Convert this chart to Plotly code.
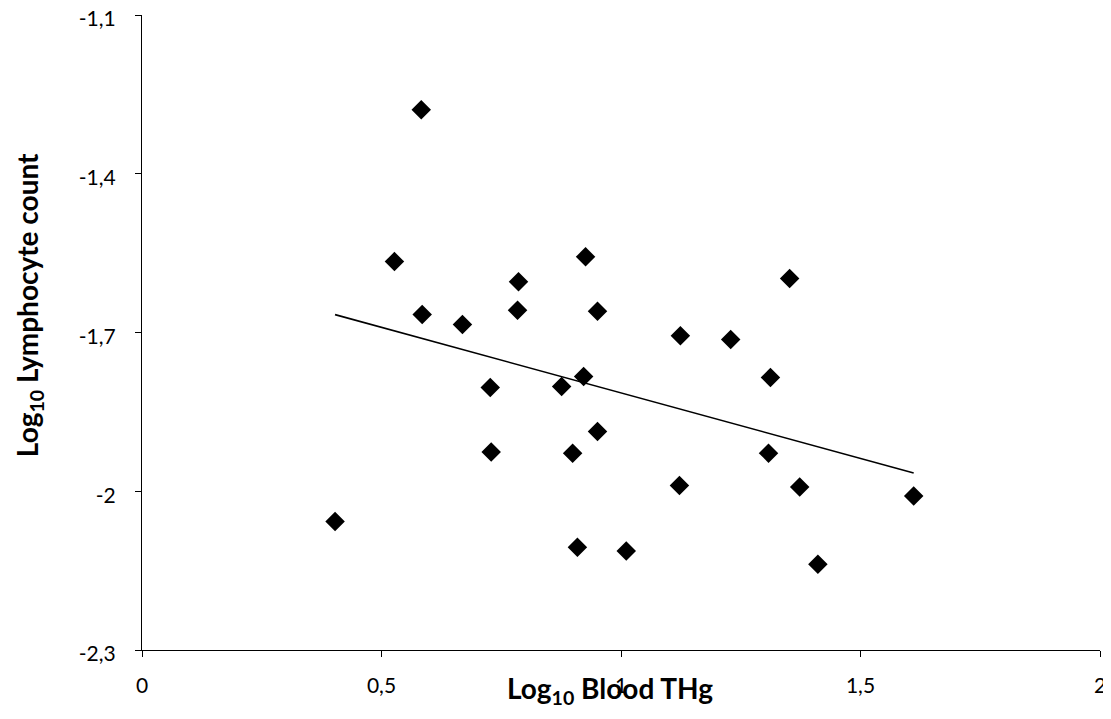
import numpy as np
import plotly.graph_objects as go

# Data
blood_thg_log = [0.403, 0.527, 0.583, 0.585, 0.669, 0.727, 0.729, 0.786, 0.784,
                 0.876, 0.899, 0.909, 0.922, 0.926, 0.951, 0.951, 1.011, 1.124,
                 1.122, 1.229, 1.308, 1.312, 1.352, 1.373, 1.411, 1.611]
lymph_log = [-2.057, -1.566, -1.279, -1.666, -1.685, -1.804, -1.926, -1.604, -1.658,
             -1.802, -1.928, -2.106, -1.783, -1.557, -1.660, -1.887, -2.113, -1.706,
             -1.989, -1.713, -1.928, -1.785, -1.598, -1.992, -2.138, -2.009]

x_ticks = [0, 0.5, 1, 1.5, 2]
x_tick_labels = ["0", "0,5", "1", "1,5", "2"]
y_ticks = [-2.3, -2.0, -1.7, -1.4, -1.1]
y_tick_labels = ["-2,3", "-2", "-1,7", "-1,4", "-1,1"]

# Linear trendline (least squares), spanning the data range
slope, intercept = np.polyfit(blood_thg_log, lymph_log, 1)
tx = [min(blood_thg_log), max(blood_thg_log)]
ty = [slope * v + intercept for v in tx]

FONT = "Lato"

fig = go.Figure()
fig.add_trace(go.Scatter(
    x=blood_thg_log, y=lymph_log, mode="markers",
    marker=dict(symbol="diamond", size=15, color="black", line=dict(width=0)),
    showlegend=False, hoverinfo="x+y"))
fig.add_trace(go.Scatter(
    x=tx, y=ty, mode="lines", line=dict(color="black", width=1.6),
    showlegend=False, hoverinfo="skip"))

# The page body adds an 8px offset; size the figure to compensate
fig.update_layout(
    width=1103, height=711,
    margin=dict(l=134, r=11, t=7, b=69),
    paper_bgcolor="white", plot_bgcolor="white",
    font=dict(family=FONT, color="black", size=20),
    xaxis=dict(range=[0, 2], tickvals=x_ticks, ticktext=x_tick_labels,
               showgrid=False, zeroline=False, automargin=False,
               showline=True, linecolor="black", linewidth=1.3,
               ticks="outside", ticklen=6, tickwidth=1.3, tickcolor="black",
               tickfont=dict(family=FONT, size=21), ticklabelstandoff=11,
               ticklabeloverflow="allow"),
    yaxis=dict(range=[-2.3, -1.1], tickvals=y_ticks, ticktext=y_tick_labels,
               showgrid=False, zeroline=False, automargin=False,
               showline=True, linecolor="black", linewidth=1.3,
               ticks="outside", ticklen=6, tickwidth=1.3, tickcolor="black",
               tickfont=dict(family=FONT, size=21), ticklabelstandoff=15,
               ticklabelshift=4, ticklabeloverflow="allow"),
    annotations=[
        dict(text="<b>Log<sub>10</sub> Blood THg</b>", xref="paper", yref="paper",
             x=0.4885, y=-0.063, xanchor="center", yanchor="middle", showarrow=False,
             font=dict(family=FONT, size=28, color="black")),
        dict(text="<b>Log<sub>10</sub> Lymphocyte count</b>", xref="paper", yref="paper",
             x=-0.118, y=0.543, xanchor="center", yanchor="middle", showarrow=False,
             textangle=-90, font=dict(family=FONT, size=28, color="black")),
    ],
)

fig.write_html("out.html")
